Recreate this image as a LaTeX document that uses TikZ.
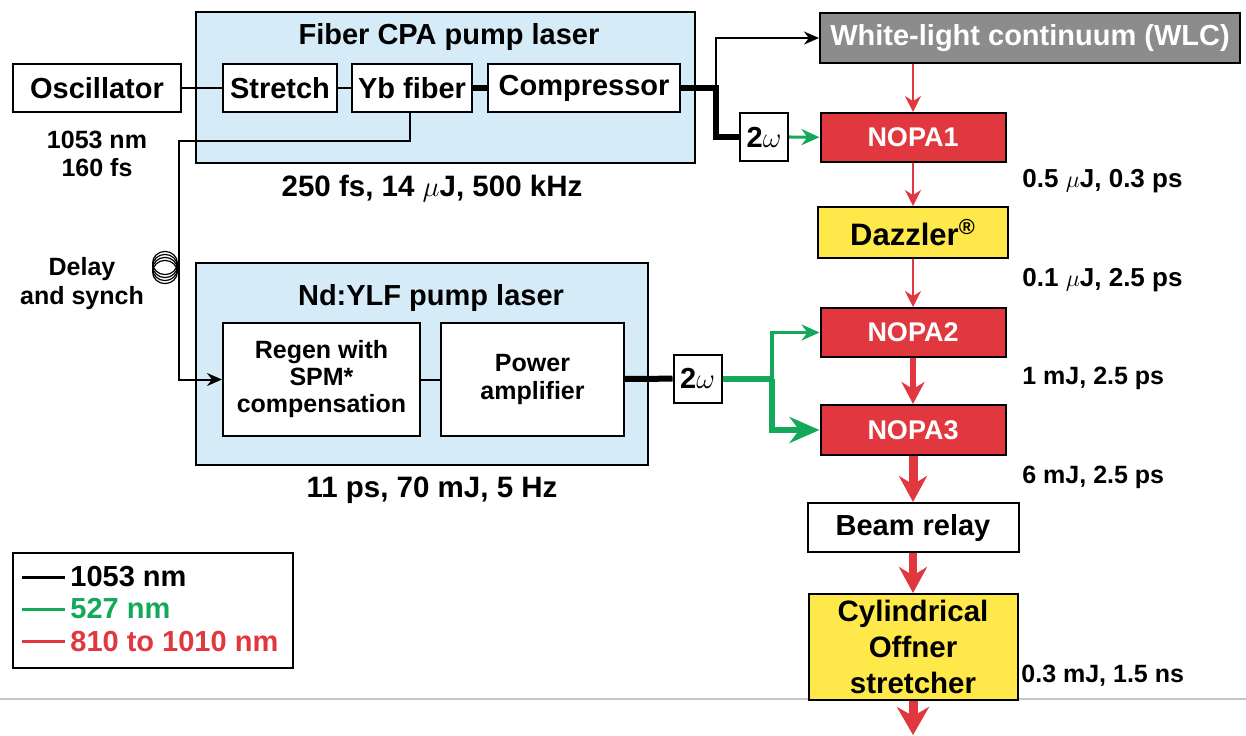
\documentclass[tikz,border=0pt]{standalone}
\usepackage{fontspec}
\setmainfont{Liberation Sans}
\usetikzlibrary{arrows.meta}
\definecolor{pumpblue}{HTML}{D5EBF7}
\definecolor{beamred}{HTML}{E0383E}
\definecolor{beamgreen}{HTML}{13A85A}
\definecolor{dazzyellow}{HTML}{FFE94A}
\definecolor{wlcgray}{HTML}{8C8C8C}

\begin{document}
\begin{tikzpicture}[x=0.5pt,y=-0.5pt,
  box/.style={draw, line width=1pt, fill=white, inner sep=0pt, align=center,
    font=\fontsize{14.5}{17}\selectfont\bfseries},
  opa/.style={box, fill=beamred, text=white, font=\fontsize{13.5}{16}\selectfont\bfseries},
  shg/.style={box, minimum width=24pt, minimum height=24pt},
  title/.style={inner sep=0pt, font=\fontsize{14.5}{17}\selectfont\bfseries},
  lbl/.style={inner sep=0pt, align=center, font=\fontsize{12.5}{14.5}\selectfont\bfseries},
  pumplbl/.style={lbl, font=\fontsize{14.75}{17}\selectfont\bfseries},
  ir/.style={line width=1pt},
  irthick/.style={line width=3pt},
  irarrow/.style={ir, -{Stealth[length=7.5pt, width=6.5pt]}},
  grn/.style={beamgreen, line width=1.6pt, -{Stealth[length=9pt, width=8pt]}},
  grnthick/.style={beamgreen, line width=3pt},
  redthin/.style={beamred, line width=1pt, -{Stealth[length=8pt, width=8pt]}},
  redmid/.style={beamred, line width=3pt, -{Stealth[length=11pt, width=11.5pt]}},
  redthick/.style={beamred, line width=4.5pt, -{Stealth[length=13pt, width=14pt]}}]
\useasboundingbox (0,0) rectangle (1246,735);
\draw[gray!45, line width=0.6pt] (0,699) -- (1246,699);

% pump laser housings
\draw[line width=1pt, fill=pumpblue] (196,12) rectangle (695,163);
\draw[line width=1pt, fill=pumpblue] (196,263) rectangle (648,465);
\node[title] (cpa) at (449,37) {Fiber CPA pump laser};
\node[title] (ndylf) at (431,298) {Nd:YLF pump laser};

% front end
\node[box, minimum width=84pt, minimum height=24pt] (osc) at (97,88) {Oscillator};
\node[box, minimum width=57pt, minimum height=24pt] (stretch) at (280,88) {Stretch};
\node[box, minimum width=60pt, minimum height=24pt] (yb) at (412,88) {Yb fiber};
\node[box, minimum width=96pt, minimum height=24pt] (comp) at (584,88) {Compressor};
\node[lbl, font=\fontsize{12.5}{14}\selectfont\bfseries] (osclbl) at (97,154) {1053 nm\\160 fs};
\node[pumplbl] (cpalbl) at (432,189) {250 fs, 14 $\mu$J, 500 kHz};

\node[box, minimum width=98.5pt, minimum height=56.5pt,
  font=\fontsize{12.5}{13.5}\selectfont\bfseries] (regen) at (321.5,379.5) {Regen with\\SPM*\\compensation};
\node[box, minimum width=91.5pt, minimum height=56.5pt,
  font=\fontsize{12.5}{14}\selectfont\bfseries] (amp) at (532.5,379.5) {Power\\amplifier};
\node[pumplbl] (ndlbl) at (432,490) {11 ps, 70 mJ, 5 Hz};
\node[lbl] (delay) at (82,284) {Delay\\and synch};

\node[shg] (dbla) at (764,137) {2$\omega$};
\node[shg] (dblb) at (697.5,378.5) {2$\omega$};

% OPA chain
\node[box, fill=wlcgray, text=white, minimum width=210pt, minimum height=25pt] (wlc) at (1030,38) {White-light continuum (WLC)};
\node[opa, minimum width=92.5pt, minimum height=24.5pt] (nopa1) at (913,137.5) {NOPA1};
\node[box, fill=dazzyellow, minimum width=95pt, minimum height=25.5pt,
  font=\fontsize{15.5}{18}\selectfont\bfseries] (dazz) at (913,232.5) {Dazzler\textsuperscript{\textregistered}};
\node[opa, minimum width=92.5pt, minimum height=24.5pt] (nopa2) at (913,332.5) {NOPA2};
\node[opa, minimum width=92.5pt, minimum height=25pt] (nopa3) at (913,430) {NOPA3};
\node[box, minimum width=105.5pt, minimum height=24.5pt] (relay) at (913,527.5) {Beam relay};
\node[box, fill=dazzyellow, minimum width=104.5pt, minimum height=53pt,
  font=\fontsize{14.75}{18}\selectfont\bfseries] (offner) at (913,647) {Cylindrical\\Offner\\stretcher};

\node[lbl, anchor=west, font=\fontsize{13}{15}\selectfont\bfseries] (e1) at (1022,181) {0.5 $\mu$J, 0.3 ps};
\node[lbl, anchor=west, font=\fontsize{13}{15}\selectfont\bfseries] (e2) at (1022,280) {0.1 $\mu$J, 2.5 ps};
\node[lbl, anchor=west] (e3) at (1022,378) {1 mJ, 2.5 ps};
\node[lbl, anchor=west] (e4) at (1022,477) {6 mJ, 2.5 ps};
\node[lbl, anchor=west] (e5) at (1021,676) {0.3 mJ, 1.5 ns};

% 1053 nm
\coordinate (split) at (716,88);
\coordinate (tap) at (179,141);
\draw[ir] (osc) -- (stretch);
\draw[ir] (stretch) -- (yb);
\draw[irthick] (yb) -- (comp);
\draw[irthick] (comp.east) -- (split) |- (dbla.west);
\draw[irarrow] (split) |- (wlc.west);
\draw[irarrow] ([xshift=-1pt]yb.south) |- (tap) |- (regen.west);
\foreach \dy in {0,3,6,9}
  \draw[line width=0.6pt] (165,{263+\dy}) ellipse [x radius=6.2pt, y radius=5.8pt];
\draw[ir] (regen) -- (amp);
\draw[irthick] (amp) -- (dblb);

% 527 nm
\coordinate (gsplit) at (772,378.5);
\draw[grn] (dbla) -- (nopa1);
\draw[grnthick] (dblb) -- (gsplit);
\draw[grn] (gsplit) |- (nopa2.west);
\draw[grnthick, -{Stealth[length=15pt, width=13pt]}] (gsplit) |- (nopa3.west);

% 810 to 1010 nm
\coordinate (exit) at (913,735);
\draw[redthin] (wlc.south -| nopa1.north) -- (nopa1.north);
\draw[redthin] (nopa1) -- (dazz);
\draw[redthin] (dazz) -- (nopa2);
\draw[redmid] (nopa2) -- (nopa3);
\draw[redthick] (nopa3) -- (relay);
\draw[redthick, line width=4pt] (relay) -- (offner);
\draw[redthick, -{Stealth[length=14pt, width=16pt]}] (offner) -- (exit);

% legend
\draw[line width=1pt] (13,553) rectangle (293,668);
\foreach \col/\yy/\txt in {black/577/1053 nm, beamgreen/609/527 nm, beamred/641/810 to 1010 nm}{
  \draw[\col, line width=1.5pt] (22,\yy) -- (65,\yy);
  \node[title, text=\col, anchor=west] (key\yy) at (70,\yy) {\txt};
}
\end{tikzpicture}
\end{document}
